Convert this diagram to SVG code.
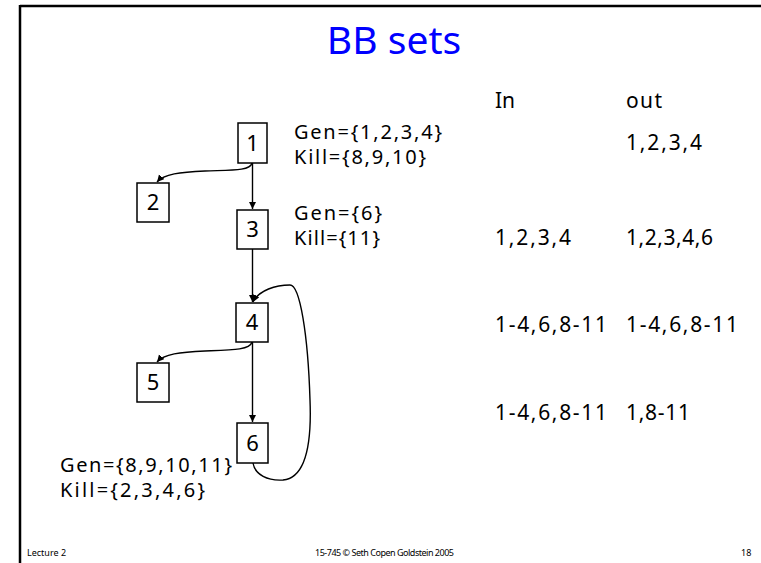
<svg xmlns="http://www.w3.org/2000/svg" width="761" height="563" viewBox="0 0 761 563">
<style>
text{font-family:"Comic Sans MS","Noto Sans",sans-serif;fill:#000}
.box{fill:#fff;stroke:#000;stroke-width:1.5}
.num{font-size:22px;text-anchor:middle}
.lbl{font-size:20px}
.tbl{font-size:21px}
.foot{font-size:9px}
.edge{fill:none;stroke:#000;stroke-width:1.4}
</style>
<defs>
<marker id="ah" markerUnits="userSpaceOnUse" markerWidth="8" markerHeight="8" refX="7" refY="3.5" orient="auto">
<path d="M0,0 L7,3.5 L0,7 Z" fill="#000"/>
</marker>
</defs>
<rect x="0" y="0" width="761" height="563" fill="#fff"/>
<g id="frame">
<line x1="20" y1="6" x2="761" y2="6" stroke="#000" stroke-width="2.5"/>
<line x1="20" y1="5" x2="20" y2="563" stroke="#000" stroke-width="2.5"/>
</g>
<text x="394" y="54" style="font-size:39px;fill:#0000ff;text-anchor:middle">BB sets</text>
<g id="connectors">
<path class="edge" d="M252.5,163 L252.5,209" marker-end="url(#ah)"/>
<path class="edge" d="M252,163 C250,171 232,170 205,171 C180,172 164,174 157,182" marker-end="url(#ah)"/>
<path class="edge" d="M252.5,249 L252.5,302" marker-end="url(#ah)"/>
<path class="edge" d="M252,342 C250,350 232,350 205,351 C180,352 164,354 157,362" marker-end="url(#ah)"/>
<path class="edge" d="M252.5,342 L252.5,422" marker-end="url(#ah)"/>
<path class="edge" d="M253,463 C255,475 268,481 283,480 C304,478 312,450 310,400 C308,335 300,285 290,285 C276,285 259,290 253,302" marker-end="url(#ah)"/>
</g>
<g id="n1"><rect class="box" x="238" y="123" width="29" height="40"/><text class="num" x="252.5" y="151">1</text></g>
<g id="n2"><rect class="box" x="137" y="183" width="32" height="39"/><text class="num" x="153" y="210">2</text></g>
<g id="n3"><rect class="box" x="237" y="210" width="31" height="39"/><text class="num" x="252.5" y="237">3</text></g>
<g id="n4"><rect class="box" x="236" y="303" width="32" height="39"/><text class="num" x="252" y="330">4</text></g>
<g id="n5"><rect class="box" x="137" y="363" width="32" height="39"/><text class="num" x="153" y="390">5</text></g>
<g id="n6"><rect class="box" x="237" y="423" width="31" height="40"/><text class="num" x="252.5" y="451">6</text></g>
<g id="labels">
<text class="lbl" x="294" y="139" textLength="148">Gen={1,2,3,4}</text>
<text class="lbl" x="294" y="164" textLength="132">Kill={8,9,10}</text>
<text class="lbl" x="294" y="220" textLength="88">Gen={6}</text>
<text class="lbl" x="294" y="245" textLength="86">Kill={11}</text>
<text class="lbl" x="60" y="472" textLength="172">Gen={8,9,10,11}</text>
<text class="lbl" x="60" y="497" textLength="145">Kill={2,3,4,6}</text>
</g>
<g id="table">
<text class="tbl" x="495" y="108">In</text>
<text class="tbl" x="626" y="108" textLength="36">out</text>
<text class="tbl" x="626" y="150" textLength="76">1,2,3,4</text>
<text class="tbl" x="495" y="245" textLength="76">1,2,3,4</text>
<text class="tbl" x="626" y="245" textLength="87">1,2,3,4,6</text>
<text class="tbl" x="495" y="332" textLength="112">1-4,6,8-11</text>
<text class="tbl" x="626" y="332" textLength="112">1-4,6,8-11</text>
<text class="tbl" x="495" y="420" textLength="112">1-4,6,8-11</text>
<text class="tbl" x="626" y="420" textLength="64">1,8-11</text>
</g>
<g id="footer">
<text class="foot" x="27" y="556">Lecture 2</text>
<text class="foot" x="315" y="556" textLength="139">15-745 © Seth Copen Goldstein 2005</text>
<text class="foot" x="741" y="556">18</text>
</g>
</svg>
